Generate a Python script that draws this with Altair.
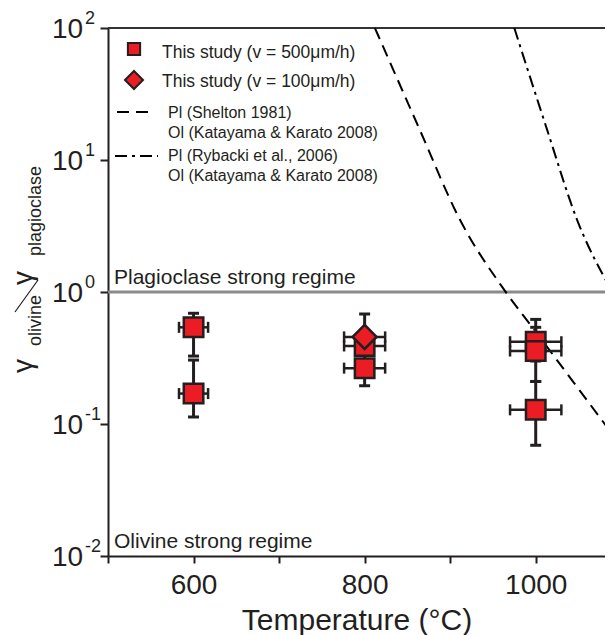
import altair as alt
import pandas as pd

# ---------------- data ----------------
# This study, v = 500 um/h (squares)
t500 = [600, 600, 800, 800, 1000, 1000, 1000]
r500 = [0.54, 0.17, 0.39, 0.265, 0.42, 0.357, 0.128]
lo500 = [0.327, 0.113, 0.30, 0.195, 0.30, 0.21, 0.069]
hi500 = [0.69, 0.305, 0.50, 0.36, 0.62, 0.54, 0.21]
xe500 = [17, 17, 24, 24, 30, 30, 30]

# This study, v = 100 um/h (diamond)
t100 = [800]
r100 = [0.457]
lo100 = [0.35]
hi100 = [0.68]
xe100 = [24]

# Pl (Shelton 1981) / Ol (Katayama & Karato 2008)
shelton_t = [812, 864, 911, 964, 1000, 1045, 1090]
shelton_r = [100, 17.2, 3.57, 1.02, 0.50, 0.204, 0.083]
# Pl (Rybacki et al., 2006) / Ol (Katayama & Karato 2008)
ryb_t = [975, 1013, 1048, 1089]
ryb_r = [100, 17.2, 3.57, 1.02]

y_tick_vals = [100, 10, 1, 0.1, 0.01]
y_tick_exp = ["2", "1", "0", "-1", "-2"]
x_tick_vals = [500, 600, 700, 800, 900, 1000]

legend_study = ["This study (v = 500\u03bcm/h)", "This study (v = 100\u03bcm/h)"]
legend_lines = [["Pl (Shelton 1981)", "Ol (Katayama & Karato 2008)"],
                ["Pl (Rybacki et al., 2006)", "Ol (Katayama & Karato 2008)"]]

# ---------------- layout ----------------
W, H = 497, 528
FONT = "Liberation Sans"
INK = "#231f20"
RED = "#ec1c24"

pts = pd.DataFrame({
    "T": t500 + t100,
    "r": r500 + r100,
    "lo": lo500 + lo100,
    "hi": hi500 + hi100,
    "xe": xe500 + xe100,
    "series": ["500"] * len(t500) + ["100"] * len(t100),
})
pts["xlo"] = pts["T"] - pts["xe"]
pts["xhi"] = pts["T"] + pts["xe"]
sq = pts[pts.series == "500"]
dm = pts[pts.series == "100"]

lines = pd.DataFrame({
    "T": shelton_t + ryb_t,
    "r": shelton_r + ryb_r,
    "src": ["shelton"] * len(shelton_t) + ["rybacki"] * len(ryb_t),
})

xs = alt.Scale(domain=[500, 1081], nice=False, zero=False)
ys = alt.Scale(type="log", domain=[0.01, 100], nice=False)
xaxis = alt.Axis(values=x_tick_vals, format="d",
                 labelExpr="(datum.value == 600 || datum.value == 800 || datum.value == 1000) ? datum.label : ''",
                 labelFont=FONT, labelFontSize=28, labelColor=INK, labelPadding=8,
                 tickSize=7, tickWidth=2, tickColor=INK, domainWidth=2, domainColor=INK,
                 grid=False, title="Temperature (\u00b0C)", titleFont=FONT, titleFontSize=30,
                 titleFontWeight="normal", titleColor=INK, titlePadding=6)
yaxis = alt.Axis(values=y_tick_vals, labels=False, tickSize=8, tickWidth=2, tickColor=INK,
                 domainWidth=2, domainColor=INK, grid=False, title=None)


def X(f):
    return alt.X(f, type="quantitative", scale=xs, axis=xaxis)


def Y(f):
    return alt.Y(f, type="quantitative", scale=ys, axis=yaxis)


one = pd.DataFrame({"a": [0]})
layers = []

# top frame line and regime line
layers.append(alt.Chart(pd.DataFrame({"r": [100]})).mark_rule(color="#333333", strokeWidth=2).encode(
    x=alt.value(0), x2=alt.value(W), y=Y("r")))
layers.append(alt.Chart(pd.DataFrame({"r": [1]})).mark_rule(color="#8a8a8a", strokeWidth=3).encode(
    x=alt.value(0), x2=alt.value(W), y=Y("r")))

# model curves
layers.append(alt.Chart(lines[lines.src == "shelton"]).mark_line(
    color="black", strokeWidth=2, strokeDash=[12, 7], clip=True, interpolate="monotone").encode(
    x=X("T"), y=Y("r")))
layers.append(alt.Chart(lines[lines.src == "rybacki"]).mark_line(
    color="black", strokeWidth=2, strokeDash=[12, 5, 3, 5], clip=True, interpolate="monotone").encode(
    x=X("T"), y=Y("r")))

# error bars
layers.append(alt.Chart(pts).mark_rule(color=INK, strokeWidth=3).encode(x=X("T"), y=Y("lo"), y2="hi:Q"))
layers.append(alt.Chart(pts).mark_tick(orient="horizontal", size=11, thickness=3, color=INK, opacity=1).encode(
    x=X("T"), y=Y("lo")))
layers.append(alt.Chart(pts).mark_tick(orient="horizontal", size=11, thickness=3, color=INK, opacity=1).encode(
    x=X("T"), y=Y("hi")))
layers.append(alt.Chart(pts).mark_rule(color=INK, strokeWidth=2.5).encode(x=X("xlo"), x2="xhi:Q", y=Y("r")))
layers.append(alt.Chart(pts).mark_tick(orient="vertical", size=11, thickness=2.5, color=INK, opacity=1).encode(
    x=X("xlo"), y=Y("r")))
layers.append(alt.Chart(pts).mark_tick(orient="vertical", size=11, thickness=2.5, color=INK, opacity=1).encode(
    x=X("xhi"), y=Y("r")))

# markers
layers.append(alt.Chart(sq).mark_point(shape="square", filled=True, fill=RED, stroke=INK, strokeWidth=2.5,
                                       size=380, opacity=1).encode(x=X("T"), y=Y("r")))
layers.append(alt.Chart(dm).mark_point(shape="diamond", filled=True, fill=RED, stroke=INK, strokeWidth=2.5,
                                       size=576, opacity=1).encode(x=X("T"), y=Y("r")))

# y tick labels 10^n
ylab = pd.DataFrame({"v": y_tick_vals, "e": y_tick_exp})
layers.append(alt.Chart(ylab).mark_text(align="left", baseline="middle", font=FONT, fontSize=28,
                                        color=INK, dy=2).encode(
    x=alt.value(-56), y=Y("v"), text=alt.value("10")))
layers.append(alt.Chart(ylab).mark_text(align="left", baseline="middle", font=FONT, fontSize=18,
                                        color=INK, dy=-9).encode(
    x=alt.value(-23), y=Y("v"), text="e:N"))

# y axis title (gamma_olivine / gamma_plagioclase)
ytitle = [("\u03b3", -76, 345, 28), ("olivine", -67, 318, 18),
          ("\u03b3", -76, 257, 28), ("plagioclase", -67, 228, 18)]
for txt, tx, ty, fs in ytitle:
    layers.append(alt.Chart(one).mark_text(align="left", baseline="alphabetic", angle=270, font=FONT,
                                           fontSize=fs, color=INK).encode(
        x=alt.value(tx), y=alt.value(ty), text=alt.value(txt)))
layers.append(alt.Chart(one).mark_rule(color=INK, strokeWidth=1.2).encode(
    x=alt.value(-93), y=alt.value(284), x2=alt.value(-70), y2=alt.value(252)))

# regime annotations
layers.append(alt.Chart(pd.DataFrame({"r": [1], "t": ["Plagioclase strong regime"]})).mark_text(
    align="left", baseline="alphabetic", font=FONT, fontSize=21, color=INK, dx=6, dy=-8).encode(
    x=alt.value(0), y=Y("r"), text="t:N"))
layers.append(alt.Chart(pd.DataFrame({"r": [0.01], "t": ["Olivine strong regime"]})).mark_text(
    align="left", baseline="alphabetic", font=FONT, fontSize=21, color=INK, dx=6, dy=-8).encode(
    x=alt.value(0), y=Y("r"), text="t:N"))

# legend
layers.append(alt.Chart(one).mark_point(shape="square", filled=True, fill=RED, stroke=INK, strokeWidth=2,
                                        size=150, opacity=1).encode(x=alt.value(26), y=alt.value(21)))
layers.append(alt.Chart(one).mark_point(shape="diamond", filled=True, fill=RED, stroke=INK, strokeWidth=2,
                                        size=324, opacity=1).encode(x=alt.value(26), y=alt.value(52)))
for i, (txt, ty) in enumerate(zip(legend_study, [25, 54])):
    layers.append(alt.Chart(one).mark_text(align="left", baseline="middle", font=FONT, fontSize=17.5,
                                           color=INK).encode(
        x=alt.value(54), y=alt.value(ty), text=alt.value(txt)))
layers.append(alt.Chart(one).mark_rule(color="black", strokeWidth=2, strokeDash=[12, 7]).encode(
    x=alt.value(9), x2=alt.value(46), y=alt.value(84)))
layers.append(alt.Chart(one).mark_rule(color="black", strokeWidth=2, strokeDash=[12, 5, 3, 5]).encode(
    x=alt.value(7), x2=alt.value(50), y=alt.value(128)))
for pair, ty in zip(legend_lines, [85, 128]):
    for j, txt in enumerate(pair):
        layers.append(alt.Chart(one).mark_text(align="left", baseline="middle", font=FONT, fontSize=16,
                                               color=INK).encode(
            x=alt.value(60), y=alt.value(ty + 20 * j), text=alt.value(txt)))

chart = alt.layer(*layers).properties(
    width=W, height=H,
    padding={"left": 100, "top": 20, "right": 0, "bottom": 79},
    autosize=alt.AutoSizeParams(type="none"),
).configure_view(stroke=None)

chart.save("out.html", embed_options={"renderer": "svg", "actions": False})
